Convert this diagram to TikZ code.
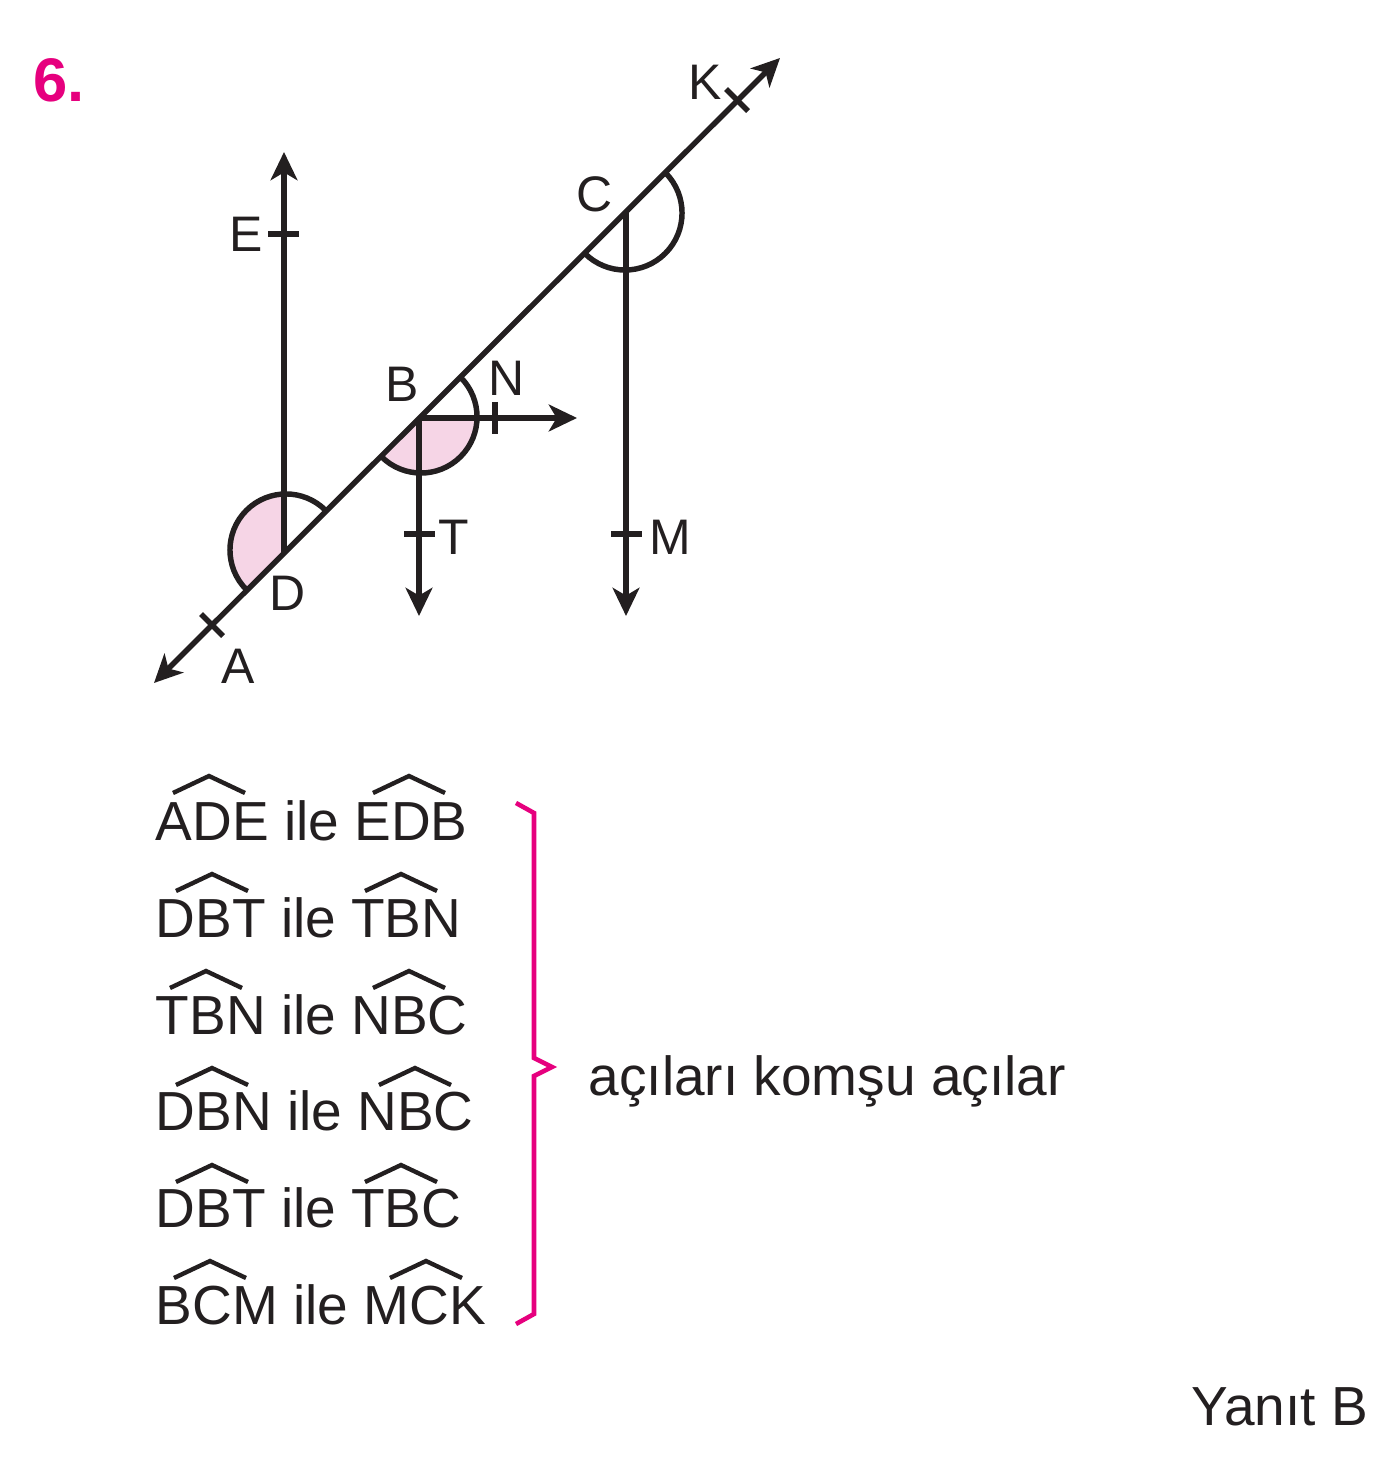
\documentclass[tikz,border=0pt]{standalone}
\usepackage{fontspec}
\setmainfont{Liberation Sans}
\usetikzlibrary{arrows.meta}
\definecolor{ink}{HTML}{231F20}
\definecolor{pembe}{HTML}{E6007E}
\definecolor{acik}{HTML}{F6D5E6}
\tikzset{
	>={Stealth[length=8pt,width=7.6pt,inset=2.2pt]},
	line/.style={draw=ink,line width=1.55pt},
	harf/.style={anchor=base,inner sep=0pt,text=ink,font=\fontsize{14.2}{16}\selectfont},
	satir/.style={anchor=base west,inner sep=0pt,text=ink,font=\fontsize{15.65}{18}\selectfont},
	sapka/.style={draw=ink,line width=1.25pt}
}
\begin{document}
\begin{tikzpicture}[x=0.01cm,y=0.01cm]
	\useasboundingbox (0,0) rectangle (1397,-1471);
	\fill[white] (0,0) rectangle (1397,-1471);
	\node (soru) [anchor=base west,inner sep=0pt,text=pembe,font=\fontsize{17.5}{20}\selectfont\bfseries] at (33,-102) {6.};
	% points on the lines
	\coordinate (A) at (154,-683);
	\coordinate (K) at (780,-58);
	\coordinate (D) at (284,-553);
	\coordinate (B) at (419,-418);
	\coordinate (C) at (626,-212);
	\coordinate (E) at (284,-152);
	\coordinate (T) at (419,-616);
	\coordinate (M) at (626,-616);
	\coordinate (N) at (577,-418);
	\coordinate (Dm) at (286,-550);
	\coordinate (Bm) at (421,-417);
	\coordinate (Cm) at (625,-213);
	% shaded angles
	\fill[acik] (D) -- ([shift={(92:0.56cm)}]Dm) arc (92:225:0.56cm) -- cycle;
	\fill[acik] (B) -- ([shift={(0:0.56cm)}]Bm) arc (0:-135:0.56cm) -- cycle;
	% angle arcs
	\draw[line] ([shift={(45:0.56cm)}]Dm) arc (45:225:0.56cm);
	\draw[line] ([shift={(45:0.56cm)}]Bm) arc (45:-135:0.56cm);
	\draw[line] ([shift={(45:0.57cm)}]Cm) arc (45:-135:0.57cm);
	% lines
	\draw[line,<->] (A) to (K);
	\draw[line,->] (D) to (E);
	\draw[line,->] (B) to (T);
	\draw[line,->] (B) to (N);
	\draw[line,->] (C) to (M);
	% ticks
	\draw[line] (201,-614) to (223,-636);
	\draw[line] (726,-89) to (748,-111);
	\draw[line] (268,-234) to (299,-234);
	\draw[line] (404,-534) to (435,-534);
	\draw[line] (611,-534) to (642,-534);
	\draw[line] (495,-402) to (495,-434);
	% point labels
	\node (Ah) [harf] at (238,-684) {A};
	\node (Dh) [harf] at (288,-611) {D};
	\node (Bh) [harf] at (402,-402) {B};
	\node (Nh) [harf] at (507,-396) {N};
	\node (Th) [harf] at (454,-555) {T};
	\node (Mh) [harf] at (670,-555) {M};
	\node (Ch) [harf] at (595,-212) {C};
	\node (Kh) [harf] at (705,-100) {K};
	\node (Eh) [harf] at (246,-252) {E};
	% angle pairs
	\node (s1) [satir] at (155,-840) {ADE ile EDB};
	\node (s2) [satir] at (155,-937) {DBT ile TBN};
	\node (s3) [satir] at (155,-1034) {TBN ile NBC};
	\node (s4) [satir] at (155,-1130) {DBN ile NBC};
	\node (s5) [satir] at (155,-1227) {DBT ile TBC};
	\node (s6) [satir] at (155,-1324) {BCM ile MCK};
	\foreach \hx/\hy in {209/793,409/793,212/891,401/891,206/988,409/988,212/1085,415/1085,212/1182,401/1182,210/1278,426/1278}
		\draw[sapka] (\hx-36,-\hy) -- (\hx,-\hy+17) -- (\hx+36,-\hy);
	% brace
	\draw[draw=pembe,line width=1.3pt,miter limit=10] (516,-803) -- (534,-813) -- (534,-1058) -- (552,-1067) -- (534,-1076) -- (534,-1314) -- (516,-1324);
	\node (sonuc) [satir] at (588,-1095) {açıları komşu açılar};
	\node (yanit) [satir] at (1191,-1425) {Yanıt B};
\end{tikzpicture}
\end{document}
